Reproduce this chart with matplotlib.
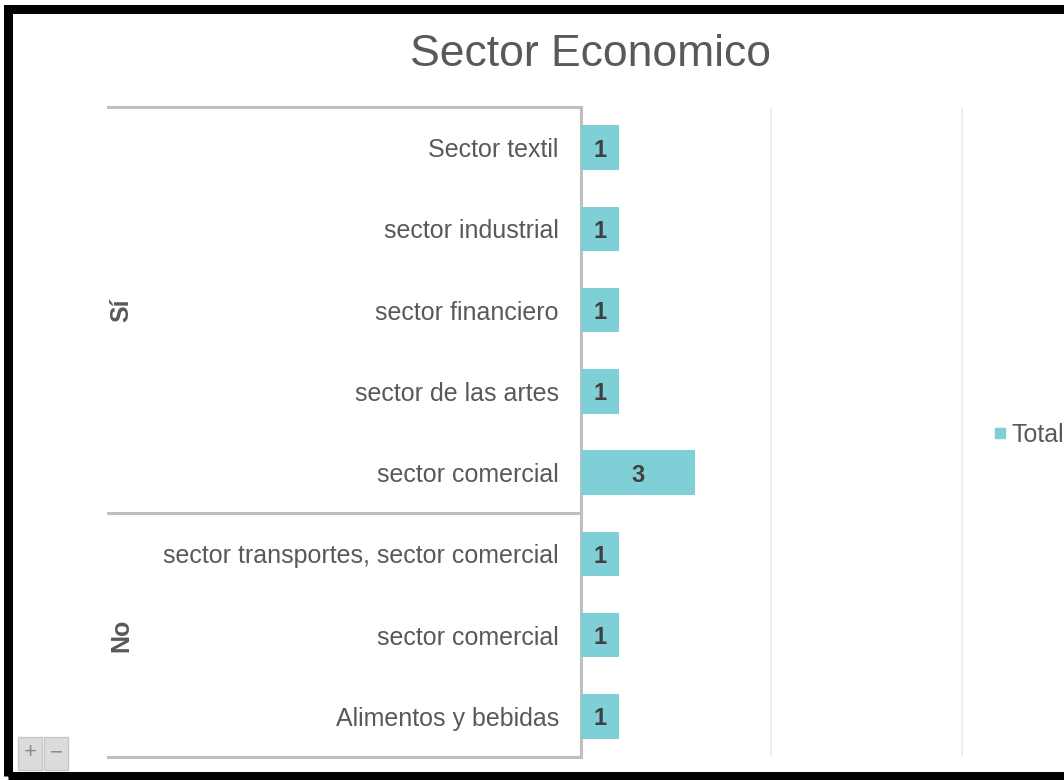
import matplotlib
matplotlib.use("Agg")
import matplotlib.pyplot as plt
from matplotlib.patches import Rectangle
import numpy as np

plt.rcParams['font.family'] = ['Liberation Sans', 'DejaVu Sans']

# datos del grafico
categorias = ["Sector textil", "sector industrial", "sector financiero",
              "sector de las artes", "sector comercial",
              "sector transportes, sector comercial", "sector comercial",
              "Alimentos y bebidas"]
totales = [1, 1, 1, 1, 3, 1, 1, 1]
grupos = ["Sí", "No"]
tam_grupos = [5, 3]
titulo = "Sector Economico"
leyenda = "Total"

W, H = 1064, 780
color_barra = '#7FD0D6'
gris = '#595959'
linea = '#BFBFBF'

fig = plt.figure(figsize=(W / 100, H / 100), dpi=100)

# area del grafico en pixeles
x0, x1 = 581, 969.6
y_top, y_bot = 107, 757
ax = fig.add_axes([x0 / W, (H - y_bot) / H, (x1 - x0) / W, (y_bot - y_top) / H])

y = np.arange(len(categorias))
bars = ax.barh(y, totales, height=0.55, color=color_barra, zorder=3)
for b, v in zip(bars, totales):
    ax.text(b.get_width() / 2, b.get_y() + b.get_height() / 2, str(v),
            ha='center', va='center_baseline', fontsize=17, fontweight='bold',
            color='#404040', zorder=4)

ax.set_xlim(0, 10.2)
ax.set_ylim(len(categorias) - 0.5, -0.5)
ax.set_xticks([5, 10])
ax.set_xticklabels([])
ax.tick_params(axis='x', length=0)
ax.grid(axis='x', color='#EBEBEB', linewidth=1.2, zorder=0)
ax.set_yticks(y)
ax.set_yticklabels(categorias, fontsize=18, color=gris)
ax.tick_params(axis='y', length=0, pad=16)
for s in ['top', 'right', 'bottom']:
    ax.spines[s].set_visible(False)
ax.spines['left'].set_color(linea)
ax.spines['left'].set_linewidth(2.2)

# lineas de grupo y etiquetas de grupo
tr = ax.get_yaxis_transform()
x_izq = (108 - x0) / (x1 - x0)
x_grp = (121 - x0) / (x1 - x0)
inicio = -0.5
for g, n in zip(grupos, tam_grupos):
    ax.plot([x_izq, 0], [inicio, inicio], transform=tr, color=linea, lw=2.2, clip_on=False)
    centro = inicio + n / 2
    ax.text(x_grp, centro, g, transform=tr, rotation=90, ha='center', va='center',
            fontsize=18, fontweight='bold', color=gris)
    inicio += n
ax.plot([x_izq, 0], [inicio, inicio], transform=tr, color=linea, lw=2.2, clip_on=False)

# titulo
fig.text(590 / W, 1 - 50 / H, titulo, ha='center', va='center_baseline', fontsize=32, color=gris)

# leyenda (al borde derecho)
fig.patches.append(Rectangle((995 / W, 1 - 438 / H), 10 / W, 10 / H,
                             transform=fig.transFigure, color=color_barra))
fig.text(1011 / W, 1 - 433 / H, leyenda, ha='left', va='center_baseline', fontsize=18, color=gris)

# botones + -
for bx, sym in [(18, '+'), (44, '−')]:
    fig.patches.append(Rectangle((bx / W, 1 - 770 / H), 24 / W, 33 / H,
                                 transform=fig.transFigure, facecolor='#DCDCDC',
                                 edgecolor='#C8C8C8', lw=1))
    fig.text((bx + 12) / W, 1 - 753 / H, sym, ha='center', va='center',
             fontsize=16, color='#8C8C8C')

# marco negro
fig.patches.append(Rectangle((8 / W, 1 - 776 / H), 1100 / W, 767 / H,
                             transform=fig.transFigure, fill=False,
                             edgecolor='black', lw=6.5))

plt.savefig('out.png', dpi=100)
